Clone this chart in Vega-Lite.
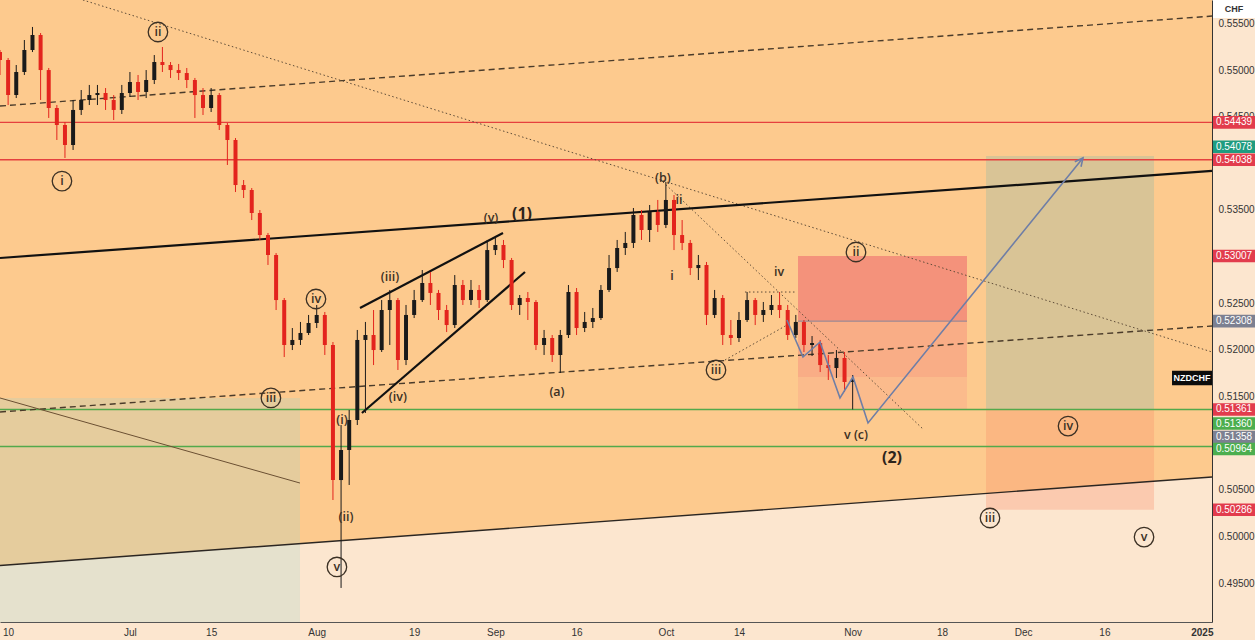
{
  "$schema": "https://vega.github.io/schema/vega-lite/v6.json",
  "width": 1212,
  "height": 622,
  "autosize": {"type": "none"},
  "padding": {"left": 0, "top": 0, "right": 43, "bottom": 18},
  "background": "#FCE6CF",
  "config": {"view": {"stroke": null, "fill": "#FDCA8E"}},
  "resolve": {"scale": {"color": "independent"}, "axis": {"x": "independent", "y": "independent"}},
  "datasets": {
    "base": [{"d": -16, "p": 0.49688}, {"d": 133.25, "p": 0.50637}],
    "boxes": [
      {"box": "left", "d": -16, "d2": 20.94, "p": 0.51484, "p2": 0.49082},
      {"box": "stop", "d": 82.27, "d2": 103.08, "p": 0.53007, "p2": 0.52299},
      {"box": "mid", "d": 82.27, "d2": 103.08, "p": 0.52299, "p2": 0.51709},
      {"box": "low", "d": 82.27, "d2": 103.08, "p": 0.51709, "p2": 0.51361},
      {"box": "tgt_up", "d": 105.42, "d2": 126.11, "p": 0.54078, "p2": 0.5136},
      {"box": "tgt_low", "d": 105.42, "d2": 126.11, "p": 0.5136, "p2": 0.50286}
    ],
    "levels": [
      {"role": "resistance", "p": 0.54439},
      {"role": "resistance", "p": 0.54038},
      {"role": "support", "p": 0.5136},
      {"role": "support", "p": 0.50964}
    ],
    "entry": [{"d": 82.27, "d2": 103.08, "p": 0.52308}],
    "trend": [
      {"line": "ch_up", "d": -16, "p": 0.54614}, {"line": "ch_up", "d": 133.25, "p": 0.55579},
      {"line": "ch_low", "d": -16, "p": 0.51334}, {"line": "ch_low", "d": 133.25, "p": 0.52256},
      {"line": "wave1", "d": -16, "p": 0.52985}, {"line": "wave1", "d": 133.25, "p": 0.53918},
      {"line": "base", "d": -16, "p": 0.49688}, {"line": "base", "d": 133.25, "p": 0.50637},
      {"line": "tl_long", "d": -5.79, "p": 0.55751}, {"line": "tl_long", "d": 133.25, "p": 0.51977},
      {"line": "tl_b", "d": 65.64, "p": 0.538}, {"line": "tl_b", "d": 97.66, "p": 0.51151},
      {"line": "tl_iii", "d": 73.28, "p": 0.51891}, {"line": "tl_iii", "d": 80.91, "p": 0.52266},
      {"line": "tl_iv", "d": 75.74, "p": 0.5262}, {"line": "tl_iv", "d": 82.14, "p": 0.5262},
      {"line": "left_tl", "d": -16, "p": 0.51484}, {"line": "left_tl", "d": 20.94, "p": 0.50572},
      {"line": "wedge_up", "d": 28.33, "p": 0.52449}, {"line": "wedge_up", "d": 45.94, "p": 0.53253},
      {"line": "wedge_low", "d": 28.57, "p": 0.51323}, {"line": "wedge_low", "d": 48.65, "p": 0.52835}
    ],
    "candles": [
      {"d": -16, "o": 0.55193, "h": 0.55215, "l": 0.54947, "c": 0.55108},
      {"d": -15, "o": 0.55108, "h": 0.55129, "l": 0.54625, "c": 0.54732},
      {"d": -14, "o": 0.54732, "h": 0.55054, "l": 0.547, "c": 0.54979},
      {"d": -13, "o": 0.54979, "h": 0.55322, "l": 0.54947, "c": 0.55215},
      {"d": -12, "o": 0.55215, "h": 0.55462, "l": 0.55193, "c": 0.55376},
      {"d": -11, "o": 0.55376, "h": 0.55397, "l": 0.54679, "c": 0.55},
      {"d": -10, "o": 0.55, "h": 0.55022, "l": 0.54486, "c": 0.54593},
      {"d": -9, "o": 0.54593, "h": 0.54625, "l": 0.5425, "c": 0.54411},
      {"d": -8, "o": 0.54411, "h": 0.54443, "l": 0.54057, "c": 0.54196},
      {"d": -7, "o": 0.54196, "h": 0.54679, "l": 0.54143, "c": 0.54572},
      {"d": -6, "o": 0.54572, "h": 0.54786, "l": 0.54518, "c": 0.54679},
      {"d": -5, "o": 0.54679, "h": 0.5484, "l": 0.54625, "c": 0.54732},
      {"d": -4, "o": 0.54732, "h": 0.5484, "l": 0.54625, "c": 0.54754},
      {"d": -3, "o": 0.54754, "h": 0.54807, "l": 0.54572, "c": 0.54679},
      {"d": -2, "o": 0.54679, "h": 0.54732, "l": 0.54464, "c": 0.54572},
      {"d": -1, "o": 0.54572, "h": 0.5484, "l": 0.54529, "c": 0.54754},
      {"d": 0, "o": 0.54754, "h": 0.54979, "l": 0.54711, "c": 0.54872},
      {"d": 1, "o": 0.54872, "h": 0.54947, "l": 0.54679, "c": 0.54765},
      {"d": 2, "o": 0.54765, "h": 0.55, "l": 0.547, "c": 0.54893},
      {"d": 3, "o": 0.54893, "h": 0.55161, "l": 0.5485, "c": 0.55086},
      {"d": 4, "o": 0.55086, "h": 0.55247, "l": 0.54979, "c": 0.55054},
      {"d": 5, "o": 0.55054, "h": 0.55086, "l": 0.54915, "c": 0.55},
      {"d": 6, "o": 0.55, "h": 0.55065, "l": 0.54893, "c": 0.54968},
      {"d": 7, "o": 0.54968, "h": 0.55022, "l": 0.54807, "c": 0.54893},
      {"d": 8, "o": 0.54893, "h": 0.54915, "l": 0.54486, "c": 0.54732},
      {"d": 9, "o": 0.54732, "h": 0.54807, "l": 0.54518, "c": 0.54593},
      {"d": 10, "o": 0.54593, "h": 0.54807, "l": 0.5455, "c": 0.54732},
      {"d": 11, "o": 0.54732, "h": 0.54754, "l": 0.54357, "c": 0.54411},
      {"d": 12, "o": 0.54411, "h": 0.54432, "l": 0.53982, "c": 0.5425},
      {"d": 13, "o": 0.5425, "h": 0.54271, "l": 0.53692, "c": 0.53767},
      {"d": 14, "o": 0.53767, "h": 0.53821, "l": 0.53628, "c": 0.53714},
      {"d": 15, "o": 0.53714, "h": 0.53735, "l": 0.53392, "c": 0.53467},
      {"d": 16, "o": 0.53467, "h": 0.53499, "l": 0.53178, "c": 0.53231},
      {"d": 17, "o": 0.53231, "h": 0.53253, "l": 0.5291, "c": 0.53017},
      {"d": 18, "o": 0.53017, "h": 0.53038, "l": 0.52427, "c": 0.52534},
      {"d": 19, "o": 0.52534, "h": 0.52556, "l": 0.51923, "c": 0.52052},
      {"d": 20, "o": 0.52052, "h": 0.52234, "l": 0.51998, "c": 0.52106},
      {"d": 21, "o": 0.52106, "h": 0.52299, "l": 0.52052, "c": 0.52181},
      {"d": 22, "o": 0.52181, "h": 0.52374, "l": 0.52159, "c": 0.52288},
      {"d": 23, "o": 0.52288, "h": 0.52481, "l": 0.52234, "c": 0.52374},
      {"d": 24, "o": 0.52374, "h": 0.52406, "l": 0.51945, "c": 0.52052},
      {"d": 25, "o": 0.52052, "h": 0.52084, "l": 0.5039, "c": 0.50604},
      {"d": 26, "o": 0.50604, "h": 0.51194, "l": 0.49447, "c": 0.50926},
      {"d": 27, "o": 0.50926, "h": 0.51355, "l": 0.50551, "c": 0.51248},
      {"d": 28, "o": 0.51248, "h": 0.52213, "l": 0.51194, "c": 0.52106},
      {"d": 29, "o": 0.52106, "h": 0.52299, "l": 0.51323, "c": 0.52159},
      {"d": 30, "o": 0.52159, "h": 0.52427, "l": 0.51837, "c": 0.51998},
      {"d": 31, "o": 0.51998, "h": 0.52534, "l": 0.51977, "c": 0.52427},
      {"d": 32, "o": 0.52427, "h": 0.52642, "l": 0.52052, "c": 0.52534},
      {"d": 33, "o": 0.52534, "h": 0.52556, "l": 0.51784, "c": 0.51891},
      {"d": 34, "o": 0.51891, "h": 0.52481, "l": 0.51837, "c": 0.52374},
      {"d": 35, "o": 0.52374, "h": 0.52642, "l": 0.52341, "c": 0.52534},
      {"d": 36, "o": 0.52534, "h": 0.52856, "l": 0.52513, "c": 0.52717},
      {"d": 37, "o": 0.52717, "h": 0.52835, "l": 0.52481, "c": 0.5261},
      {"d": 38, "o": 0.5261, "h": 0.52642, "l": 0.5232, "c": 0.52427},
      {"d": 39, "o": 0.52427, "h": 0.52481, "l": 0.52191, "c": 0.52266},
      {"d": 40, "o": 0.52266, "h": 0.52802, "l": 0.52234, "c": 0.52695},
      {"d": 41, "o": 0.52695, "h": 0.52749, "l": 0.52481, "c": 0.52534},
      {"d": 42, "o": 0.52534, "h": 0.52749, "l": 0.52481, "c": 0.52642},
      {"d": 43, "o": 0.52642, "h": 0.52695, "l": 0.52449, "c": 0.52534},
      {"d": 44, "o": 0.52534, "h": 0.53178, "l": 0.52513, "c": 0.5307},
      {"d": 45, "o": 0.5307, "h": 0.5321, "l": 0.53017, "c": 0.53124},
      {"d": 46, "o": 0.53124, "h": 0.53178, "l": 0.52877, "c": 0.52963},
      {"d": 47, "o": 0.52963, "h": 0.52985, "l": 0.52427, "c": 0.52481},
      {"d": 48, "o": 0.52481, "h": 0.52588, "l": 0.52374, "c": 0.52556},
      {"d": 49, "o": 0.52556, "h": 0.5262, "l": 0.5232, "c": 0.52513},
      {"d": 50, "o": 0.52513, "h": 0.52534, "l": 0.51998, "c": 0.52052},
      {"d": 51, "o": 0.52052, "h": 0.52213, "l": 0.51945, "c": 0.52127},
      {"d": 52, "o": 0.52127, "h": 0.52159, "l": 0.5187, "c": 0.51945},
      {"d": 53, "o": 0.51945, "h": 0.52213, "l": 0.51752, "c": 0.52159},
      {"d": 54, "o": 0.52159, "h": 0.52695, "l": 0.52127, "c": 0.5262},
      {"d": 55, "o": 0.5262, "h": 0.52663, "l": 0.52159, "c": 0.52234},
      {"d": 56, "o": 0.52234, "h": 0.52406, "l": 0.52191, "c": 0.52299},
      {"d": 57, "o": 0.52299, "h": 0.52449, "l": 0.52234, "c": 0.52341},
      {"d": 58, "o": 0.52341, "h": 0.52695, "l": 0.5232, "c": 0.52642},
      {"d": 59, "o": 0.52642, "h": 0.53017, "l": 0.5262, "c": 0.52877},
      {"d": 60, "o": 0.52877, "h": 0.53178, "l": 0.52835, "c": 0.53092},
      {"d": 61, "o": 0.53092, "h": 0.53264, "l": 0.53017, "c": 0.53146},
      {"d": 62, "o": 0.53146, "h": 0.53521, "l": 0.53092, "c": 0.53446},
      {"d": 63, "o": 0.53446, "h": 0.53499, "l": 0.53178, "c": 0.53285},
      {"d": 64, "o": 0.53285, "h": 0.53553, "l": 0.53156, "c": 0.53478},
      {"d": 65, "o": 0.53478, "h": 0.53607, "l": 0.53264, "c": 0.53339},
      {"d": 66, "o": 0.53339, "h": 0.538, "l": 0.53306, "c": 0.53607},
      {"d": 67, "o": 0.53607, "h": 0.5366, "l": 0.5307, "c": 0.53231},
      {"d": 68, "o": 0.53231, "h": 0.53392, "l": 0.5307, "c": 0.53146},
      {"d": 69, "o": 0.53146, "h": 0.53178, "l": 0.52802, "c": 0.52877},
      {"d": 70, "o": 0.52877, "h": 0.53017, "l": 0.52749, "c": 0.5291},
      {"d": 71, "o": 0.5291, "h": 0.52942, "l": 0.52266, "c": 0.52374},
      {"d": 72, "o": 0.52374, "h": 0.52642, "l": 0.52341, "c": 0.52556},
      {"d": 73, "o": 0.52556, "h": 0.52588, "l": 0.52052, "c": 0.52159},
      {"d": 74, "o": 0.52159, "h": 0.5232, "l": 0.52052, "c": 0.52127},
      {"d": 75, "o": 0.52127, "h": 0.52406, "l": 0.52084, "c": 0.5232},
      {"d": 76, "o": 0.5232, "h": 0.5262, "l": 0.52299, "c": 0.52534},
      {"d": 77, "o": 0.52534, "h": 0.52556, "l": 0.52266, "c": 0.52374},
      {"d": 78, "o": 0.52374, "h": 0.52513, "l": 0.52299, "c": 0.52427},
      {"d": 79, "o": 0.52427, "h": 0.52588, "l": 0.52374, "c": 0.52481},
      {"d": 80, "o": 0.52481, "h": 0.5262, "l": 0.52341, "c": 0.52427},
      {"d": 81, "o": 0.52427, "h": 0.52481, "l": 0.52106, "c": 0.52159},
      {"d": 82, "o": 0.52159, "h": 0.52374, "l": 0.52127, "c": 0.52299},
      {"d": 83, "o": 0.52299, "h": 0.5232, "l": 0.51977, "c": 0.52052},
      {"d": 84, "o": 0.52052, "h": 0.52148, "l": 0.51934, "c": 0.52073},
      {"d": 85, "o": 0.52073, "h": 0.52106, "l": 0.51762, "c": 0.51837},
      {"d": 86, "o": 0.51837, "h": 0.51945, "l": 0.51677, "c": 0.51805},
      {"d": 87, "o": 0.51805, "h": 0.51998, "l": 0.51698, "c": 0.51913},
      {"d": 88, "o": 0.51913, "h": 0.51977, "l": 0.51548, "c": 0.51655},
      {"d": 89, "o": 0.51655, "h": 0.5173, "l": 0.51361, "c": 0.51677}
    ],
    "path": [
      {"seq": 1, "d": 80.91, "p": 0.5232},
      {"seq": 2, "d": 82.88, "p": 0.51923},
      {"seq": 3, "d": 84.98, "p": 0.52084},
      {"seq": 4, "d": 87.44, "p": 0.51484},
      {"seq": 5, "d": 89.04, "p": 0.51709},
      {"seq": 6, "d": 90.89, "p": 0.51216},
      {"seq": 7, "d": 117.36, "p": 0.54057}
    ],
    "labels": [
      {"text": "i", "d": -8.37, "p": 0.5381, "degree": "minute"},
      {"text": "ii", "d": 3.45, "p": 0.55408, "degree": "minute"},
      {"text": "iv", "d": 22.91, "p": 0.52545, "degree": "minute"},
      {"text": "iii", "d": 17.36, "p": 0.51484, "degree": "minute"},
      {"text": "v", "d": 25.49, "p": 0.49672, "degree": "minute"},
      {"text": "(i)", "d": 26.11, "p": 0.51248, "degree": "minuette"},
      {"text": "(ii)", "d": 26.6, "p": 0.50208, "degree": "minuette"},
      {"text": "(iii)", "d": 32.02, "p": 0.52781, "degree": "minuette"},
      {"text": "(iv)", "d": 33.0, "p": 0.51494, "degree": "minuette"},
      {"text": "(v)", "d": 44.46, "p": 0.53414, "degree": "minuette"},
      {"text": "(1)", "d": 48.28, "p": 0.53457, "degree": "intermediate"},
      {"text": "(a)", "d": 52.59, "p": 0.51548, "degree": "minuette"},
      {"text": "(b)", "d": 65.64, "p": 0.53843, "degree": "minuette"},
      {"text": "ii", "d": 67.61, "p": 0.53607, "degree": "subminuette"},
      {"text": "i", "d": 66.75, "p": 0.52792, "degree": "subminuette"},
      {"text": "iv", "d": 79.93, "p": 0.52835, "degree": "subminuette"},
      {"text": "iii", "d": 72.17, "p": 0.51784, "degree": "minute"},
      {"text": "ii", "d": 89.41, "p": 0.53049, "degree": "minute"},
      {"text": "v (c)", "d": 89.41, "p": 0.51087, "degree": "subminuette"},
      {"text": "(2)", "d": 93.84, "p": 0.5084, "degree": "intermediate"},
      {"text": "iv", "d": 115.52, "p": 0.51183, "degree": "minute"},
      {"text": "iii", "d": 105.91, "p": 0.50197, "degree": "minute"},
      {"text": "v", "d": 124.88, "p": 0.49993, "degree": "minute"}
    ],
    "badges": [
      {"label": "0.54439", "d": 135.96, "p": 0.54439, "tone": "red"},
      {"label": "0.54078", "d": 135.96, "p": 0.54178, "tone": "teal"},
      {"label": "0.54038", "d": 135.96, "p": 0.54038, "tone": "red"},
      {"label": "0.53007", "d": 135.96, "p": 0.53007, "tone": "red"},
      {"label": "0.52308", "d": 135.96, "p": 0.52308, "tone": "gray"},
      {"label": "0.51361", "d": 135.96, "p": 0.51361, "tone": "red"},
      {"label": "0.51360", "d": 135.96, "p": 0.5121, "tone": "green"},
      {"label": "0.51358", "d": 135.96, "p": 0.51066, "tone": "gray"},
      {"label": "0.50964", "d": 135.96, "p": 0.50937, "tone": "green"},
      {"label": "0.50286", "d": 135.96, "p": 0.50286, "tone": "red"}
    ],
    "tags": [
      {"label": "NZDCHF", "d": 130.79, "p": 0.51698},
      {"label": "CHF", "d": 135.96, "p": 0.55654}
    ]
  },
  "layer": [
    {
      "data": {"name": "base"},
      "mark": {"type": "area", "color": "#FCE6CF", "opacity": 1},
      "encoding": {
        "x": {"field": "d", "type": "quantitative",
          "scale": {"domain": [-16, 133.25], "nice": false, "zero": false, "padding": 0},
          "axis": {"orient": "bottom", "title": null, "grid": false, "ticks": false,
            "values": [-15, 0, 10, 23, 35, 45, 55, 66, 75, 89, 100, 110, 120, 132],
            "labelExpr": "['10','Jul','15','Aug','19','Sep','16','Oct','14','Nov','18','Dec','16','2025'][indexof([-15,0,10,23,35,45,55,66,75,89,100,110,120,132], datum.value)]",
            "labelFontWeight": {"condition": {"test": "datum.value == 132", "value": "bold"}, "value": "normal"},
            "domainColor": "#555555", "labelColor": "#333333", "labelFont": "Liberation Sans",
            "labelFontSize": 10, "labelPadding": 5, "labelFlush": false, "labelOverlap": false, "labelBound": false}},
        "y": {"field": "p", "type": "quantitative",
          "scale": {"domain": [0.49082, 0.55751], "nice": false, "zero": false, "padding": 0},
          "axis": {"orient": "right", "title": null, "grid": false, "ticks": false,
            "values": [0.495, 0.5, 0.505, 0.515, 0.52, 0.525, 0.535, 0.545, 0.55, 0.555],
            "format": ".5f", "domainColor": "#333333", "labelColor": "#333333", "labelFont": "Liberation Sans",
            "labelFontSize": 10, "labelPadding": 6, "labelOverlap": false, "labelBound": false}},
        "y2": {"datum": 0.49082}
      }
    },
    {
      "data": {"name": "boxes"},
      "mark": {"type": "rect"},
      "encoding": {
        "x": {"field": "d", "type": "quantitative", "scale": {"domain": [-16, 133.25], "nice": false, "zero": false, "padding": 0}, "axis": null},
        "x2": {"field": "d2"},
        "y": {"field": "p", "type": "quantitative", "scale": {"domain": [0.49082, 0.55751], "nice": false, "zero": false, "padding": 0}, "axis": null},
        "y2": {"field": "p2"},
        "color": {"field": "box", "type": "nominal", "legend": null,
          "scale": {"domain": ["left", "stop", "mid", "low", "tgt_up", "tgt_low"],
            "range": ["rgba(165,212,200,0.27)", "#F4927B", "#F9AD86", "#FBBB8C", "rgba(143,184,168,0.32)", "rgba(250,138,103,0.3)"]}}
      }
    },
    {
      "data": {"name": "levels"},
      "mark": {"type": "rule", "strokeWidth": 1.4},
      "encoding": {
        "x": {"datum": -16, "type": "quantitative", "scale": {"domain": [-16, 133.25], "nice": false, "zero": false, "padding": 0}, "axis": null},
        "x2": {"datum": 133.25},
        "y": {"field": "p", "type": "quantitative", "scale": {"domain": [0.49082, 0.55751], "nice": false, "zero": false, "padding": 0}, "axis": null},
        "color": {"field": "role", "type": "nominal", "legend": null,
          "scale": {"domain": ["resistance", "support"], "range": ["#E5403F", "#53A94B"]}}
      }
    },
    {
      "data": {"name": "entry"},
      "mark": {"type": "rule", "strokeWidth": 1, "color": "#8A8E9C"},
      "encoding": {
        "x": {"field": "d", "type": "quantitative", "scale": {"domain": [-16, 133.25], "nice": false, "zero": false, "padding": 0}, "axis": null},
        "x2": {"field": "d2"},
        "y": {"field": "p", "type": "quantitative", "scale": {"domain": [0.49082, 0.55751], "nice": false, "zero": false, "padding": 0}, "axis": null}
      }
    },
    {
      "data": {"name": "trend"},
      "transform": [{"filter": {"field": "line", "oneOf": ["ch_up", "ch_low"]}}],
      "mark": {"type": "line", "color": "#4A3B2A", "strokeWidth": 1.4, "strokeDash": [6, 4]},
      "encoding": {
        "x": {"field": "d", "type": "quantitative", "scale": {"domain": [-16, 133.25], "nice": false, "zero": false, "padding": 0}, "axis": null},
        "y": {"field": "p", "type": "quantitative", "scale": {"domain": [0.49082, 0.55751], "nice": false, "zero": false, "padding": 0}, "axis": null},
        "detail": {"field": "line"}
      }
    },
    {
      "data": {"name": "trend"},
      "transform": [{"filter": {"field": "line", "oneOf": ["tl_long", "tl_b", "tl_iii", "tl_iv"]}}],
      "mark": {"type": "line", "color": "#5E4C38", "strokeWidth": 1, "strokeDash": [1.5, 2.5]},
      "encoding": {
        "x": {"field": "d", "type": "quantitative", "scale": {"domain": [-16, 133.25], "nice": false, "zero": false, "padding": 0}, "axis": null},
        "y": {"field": "p", "type": "quantitative", "scale": {"domain": [0.49082, 0.55751], "nice": false, "zero": false, "padding": 0}, "axis": null},
        "detail": {"field": "line"}
      }
    },
    {
      "data": {"name": "trend"},
      "transform": [{"filter": {"field": "line", "oneOf": ["left_tl"]}}],
      "mark": {"type": "line", "color": "#6B5033", "strokeWidth": 1},
      "encoding": {
        "x": {"field": "d", "type": "quantitative", "scale": {"domain": [-16, 133.25], "nice": false, "zero": false, "padding": 0}, "axis": null},
        "y": {"field": "p", "type": "quantitative", "scale": {"domain": [0.49082, 0.55751], "nice": false, "zero": false, "padding": 0}, "axis": null},
        "detail": {"field": "line"}
      }
    },
    {
      "data": {"name": "trend"},
      "transform": [{"filter": {"field": "line", "oneOf": ["base"]}}],
      "mark": {"type": "line", "color": "#2B2622", "strokeWidth": 1.4},
      "encoding": {
        "x": {"field": "d", "type": "quantitative", "scale": {"domain": [-16, 133.25], "nice": false, "zero": false, "padding": 0}, "axis": null},
        "y": {"field": "p", "type": "quantitative", "scale": {"domain": [0.49082, 0.55751], "nice": false, "zero": false, "padding": 0}, "axis": null},
        "detail": {"field": "line"}
      }
    },
    {
      "data": {"name": "trend"},
      "transform": [{"filter": {"field": "line", "oneOf": ["wave1", "wedge_up", "wedge_low"]}}],
      "mark": {"type": "line", "color": "#111111", "strokeWidth": 2.2},
      "encoding": {
        "x": {"field": "d", "type": "quantitative", "scale": {"domain": [-16, 133.25], "nice": false, "zero": false, "padding": 0}, "axis": null},
        "y": {"field": "p", "type": "quantitative", "scale": {"domain": [0.49082, 0.55751], "nice": false, "zero": false, "padding": 0}, "axis": null},
        "detail": {"field": "line"}
      }
    },
    {
      "data": {"name": "candles"},
      "mark": {"type": "rule", "strokeWidth": 1},
      "encoding": {
        "x": {"field": "d", "type": "quantitative", "scale": {"domain": [-16, 133.25], "nice": false, "zero": false, "padding": 0}, "axis": null},
        "y": {"field": "l", "type": "quantitative", "scale": {"domain": [0.49082, 0.55751], "nice": false, "zero": false, "padding": 0}, "axis": null},
        "y2": {"field": "h"},
        "color": {"condition": {"test": "datum.c > datum.o", "value": "#1A1A1A"}, "value": "#E3241D"}
      }
    },
    {
      "data": {"name": "candles"},
      "mark": {"type": "bar", "width": 4},
      "encoding": {
        "x": {"field": "d", "type": "quantitative", "scale": {"domain": [-16, 133.25], "nice": false, "zero": false, "padding": 0}, "axis": null},
        "y": {"field": "o", "type": "quantitative", "scale": {"domain": [0.49082, 0.55751], "nice": false, "zero": false, "padding": 0}, "axis": null},
        "y2": {"field": "c"},
        "color": {"condition": {"test": "datum.c > datum.o", "value": "#1A1A1A"}, "value": "#E3241D"}
      }
    },
    {
      "data": {"name": "path"},
      "mark": {"type": "line", "color": "#6F7EA6", "strokeWidth": 1.6},
      "encoding": {
        "x": {"field": "d", "type": "quantitative", "scale": {"domain": [-16, 133.25], "nice": false, "zero": false, "padding": 0}, "axis": null},
        "y": {"field": "p", "type": "quantitative", "scale": {"domain": [0.49082, 0.55751], "nice": false, "zero": false, "padding": 0}, "axis": null},
        "order": {"field": "seq"}
      }
    },
    {
      "data": {"name": "path"},
      "transform": [{"filter": "datum.seq == 7"}],
      "mark": {"type": "point", "shape": "M-1,2L0,0L1,2", "size": 64, "angle": 39, "filled": false, "stroke": "#6F7EA6", "strokeWidth": 1.6, "opacity": 1},
      "encoding": {
        "x": {"field": "d", "type": "quantitative", "scale": {"domain": [-16, 133.25], "nice": false, "zero": false, "padding": 0}, "axis": null},
        "y": {"field": "p", "type": "quantitative", "scale": {"domain": [0.49082, 0.55751], "nice": false, "zero": false, "padding": 0}, "axis": null}
      }
    },
    {
      "data": {"name": "labels"},
      "transform": [{"filter": "datum.degree == 'minute'"}],
      "mark": {"type": "point", "shape": "circle", "size": 380, "filled": false, "stroke": "#3B3024", "strokeWidth": 1.3, "opacity": 1},
      "encoding": {
        "x": {"field": "d", "type": "quantitative", "scale": {"domain": [-16, 133.25], "nice": false, "zero": false, "padding": 0}, "axis": null},
        "y": {"field": "p", "type": "quantitative", "scale": {"domain": [0.49082, 0.55751], "nice": false, "zero": false, "padding": 0}, "axis": null}
      }
    },
    {
      "data": {"name": "labels"},
      "transform": [{"filter": "datum.degree != 'intermediate'"}],
      "mark": {"type": "text", "font": "Open Sans", "fontSize": 12.5, "fontWeight": 600, "color": "#3B3024", "align": "center", "baseline": "middle"},
      "encoding": {
        "x": {"field": "d", "type": "quantitative", "scale": {"domain": [-16, 133.25], "nice": false, "zero": false, "padding": 0}, "axis": null},
        "y": {"field": "p", "type": "quantitative", "scale": {"domain": [0.49082, 0.55751], "nice": false, "zero": false, "padding": 0}, "axis": null},
        "text": {"field": "text"}
      }
    },
    {
      "data": {"name": "labels"},
      "transform": [{"filter": "datum.degree == 'intermediate'"}],
      "mark": {"type": "text", "font": "Open Sans", "fontSize": 16, "fontWeight": "bold", "color": "#2E251B", "align": "center", "baseline": "middle"},
      "encoding": {
        "x": {"field": "d", "type": "quantitative", "scale": {"domain": [-16, 133.25], "nice": false, "zero": false, "padding": 0}, "axis": null},
        "y": {"field": "p", "type": "quantitative", "scale": {"domain": [0.49082, 0.55751], "nice": false, "zero": false, "padding": 0}, "axis": null},
        "text": {"field": "text"}
      }
    },
    {
      "data": {"name": "badges"},
      "mark": {"type": "point", "shape": "M-1,-0.3H1V0.3H-1Z", "size": 1764, "filled": true, "opacity": 1},
      "encoding": {
        "x": {"field": "d", "type": "quantitative", "scale": {"domain": [-16, 133.25], "nice": false, "zero": false, "padding": 0}, "axis": null},
        "y": {"field": "p", "type": "quantitative", "scale": {"domain": [0.49082, 0.55751], "nice": false, "zero": false, "padding": 0}, "axis": null},
        "color": {"field": "tone", "type": "nominal", "legend": null,
          "scale": {"domain": ["red", "teal", "green", "gray"], "range": ["#E23C4D", "#1E9C80", "#4CAE4F", "#7C8091"]}}
      }
    },
    {
      "data": {"name": "badges"},
      "mark": {"type": "text", "font": "Liberation Sans", "fontSize": 10, "color": "#FFFFFF", "align": "center", "baseline": "middle"},
      "encoding": {
        "x": {"field": "d", "type": "quantitative", "scale": {"domain": [-16, 133.25], "nice": false, "zero": false, "padding": 0}, "axis": null},
        "y": {"field": "p", "type": "quantitative", "scale": {"domain": [0.49082, 0.55751], "nice": false, "zero": false, "padding": 0}, "axis": null},
        "text": {"field": "label"}
      }
    },
    {
      "data": {"name": "tags"},
      "transform": [{"filter": "datum.label == 'NZDCHF'"}],
      "mark": {"type": "point", "shape": "M-1,-0.36H1V0.36H-1Z", "size": 1600, "filled": true, "color": "#0C0C0C", "opacity": 1},
      "encoding": {
        "x": {"field": "d", "type": "quantitative", "scale": {"domain": [-16, 133.25], "nice": false, "zero": false, "padding": 0}, "axis": null},
        "y": {"field": "p", "type": "quantitative", "scale": {"domain": [0.49082, 0.55751], "nice": false, "zero": false, "padding": 0}, "axis": null}
      }
    },
    {
      "data": {"name": "tags"},
      "transform": [{"filter": "datum.label == 'CHF'"}],
      "mark": {"type": "point", "shape": "M-1,-0.43H1V0.43H-1Z", "size": 1764, "filled": true, "color": "#FFFFFF", "opacity": 1},
      "encoding": {
        "x": {"field": "d", "type": "quantitative", "scale": {"domain": [-16, 133.25], "nice": false, "zero": false, "padding": 0}, "axis": null},
        "y": {"field": "p", "type": "quantitative", "scale": {"domain": [0.49082, 0.55751], "nice": false, "zero": false, "padding": 0}, "axis": null}
      }
    },
    {
      "data": {"name": "tags"},
      "mark": {"type": "text", "font": "Liberation Sans", "fontSize": 9, "fontWeight": "bold", "align": "center", "baseline": "middle"},
      "encoding": {
        "x": {"field": "d", "type": "quantitative", "scale": {"domain": [-16, 133.25], "nice": false, "zero": false, "padding": 0}, "axis": null},
        "y": {"field": "p", "type": "quantitative", "scale": {"domain": [0.49082, 0.55751], "nice": false, "zero": false, "padding": 0}, "axis": null},
        "text": {"field": "label"},
        "color": {"condition": {"test": "datum.label == 'CHF'", "value": "#333333"}, "value": "#FFFFFF"}
      }
    }
  ]
}
